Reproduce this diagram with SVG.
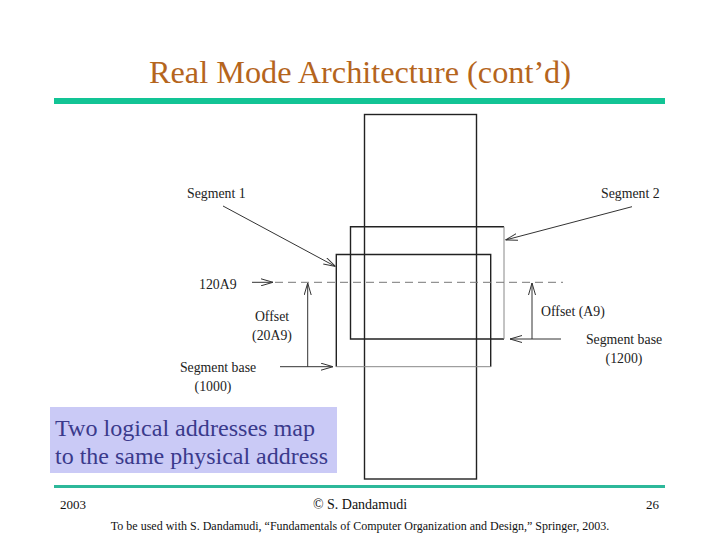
<svg xmlns="http://www.w3.org/2000/svg" width="720" height="540" viewBox="0 0 720 540">
<style>
.lbl{font-family:"Liberation Serif","Times New Roman",serif;font-size:13.8px;fill:#222}
.title{font-family:"Liberation Serif","Times New Roman",serif;font-size:31px;fill:#B5651D}
.note{font-family:"Liberation Serif","Times New Roman",serif;font-size:24px;fill:#3A3A8C}
.dark{fill:none;stroke:#222;stroke-width:1.4}
.thin{fill:none;stroke:#888;stroke-width:1}
.arr{fill:none;stroke:#333;stroke-width:1;marker-end:url(#ah)}
.foot{font-family:"Liberation Serif","Times New Roman",serif;fill:#111}
</style>
<defs>
<marker id="ah" viewBox="0 0 12 8" refX="12" refY="4" markerWidth="12" markerHeight="8" markerUnits="userSpaceOnUse" orient="auto">
<path d="M0,0.5 L12,4 L0,7.5" fill="none" stroke="#333" stroke-width="1"/>
</marker>
</defs>
<rect width="720" height="540" fill="#fff"/>
<text class="title" x="149" y="83" textLength="422" lengthAdjust="spacingAndGlyphs">Real Mode Architecture (cont’d)</text>
<rect x="54" y="98" width="611" height="6" fill="#12C495"/>

<g id="memory">
<rect x="364.5" y="114.5" width="112" height="364.5" class="dark" stroke="#333"/>
</g>
<g id="segment2">
<path d="M504,226.7 H350.5 V339 H504" class="dark"/>
<path d="M504,226.7 V339" class="thin"/>
</g>
<g id="segment1">
<path d="M336.3,366.7 V254.5 H490.7 V366.7" class="dark"/>
<path d="M336.3,366.7 H490.7" class="thin"/>
</g>

<g id="connectors">
<line x1="275" y1="282.3" x2="563" y2="282.3" stroke="#777" stroke-width="1" stroke-dasharray="8,5"/>
<line x1="252" y1="282.3" x2="273" y2="282.3" class="arr"/>
<line x1="307.7" y1="366.7" x2="307.7" y2="283" class="arr"/>
<line x1="280" y1="366.7" x2="333" y2="366.7" class="arr"/>
<line x1="223" y1="206" x2="335.5" y2="266.5" class="arr"/>
<line x1="632" y1="206.7" x2="505.5" y2="240" class="arr"/>
<line x1="532" y1="339" x2="532" y2="283" class="arr"/>
<line x1="561" y1="339" x2="510" y2="339" class="arr"/>
</g>

<g id="labels">
<text class="lbl" x="187" y="198">Segment 1</text>
<text class="lbl" x="601" y="198">Segment 2</text>
<text class="lbl" x="199" y="289">120A9</text>
<text class="lbl" x="272" y="321" text-anchor="middle">Offset</text>
<text class="lbl" x="272" y="340" text-anchor="middle">(20A9)</text>
<text class="lbl" x="218" y="372" text-anchor="middle">Segment base</text>
<text class="lbl" x="213" y="391" text-anchor="middle">(1000)</text>
<text class="lbl" x="541" y="316">Offset (A9)</text>
<text class="lbl" x="624" y="344" text-anchor="middle">Segment base</text>
<text class="lbl" x="624" y="363" text-anchor="middle">(1200)</text>
</g>

<g id="note">
<rect x="50" y="407" width="287" height="66" fill="#CACAF6"/>
<text class="note" x="55" y="436" textLength="260" lengthAdjust="spacingAndGlyphs">Two logical addresses map</text>
<text class="note" x="55" y="464" textLength="273" lengthAdjust="spacingAndGlyphs">to the same physical address</text>
</g>

<rect x="54" y="485" width="611" height="3" fill="#2DB89A"/>
<text class="foot" x="60" y="509" font-size="13">2003</text>
<text class="foot" x="360" y="509" font-size="14" text-anchor="middle">© S. Dandamudi</text>
<text class="foot" x="659" y="509" font-size="13" text-anchor="end">26</text>
<text class="foot" x="360" y="530" font-size="12" text-anchor="middle">To be used with S. Dandamudi, “Fundamentals of Computer Organization and Design,” Springer, 2003.</text>
</svg>
